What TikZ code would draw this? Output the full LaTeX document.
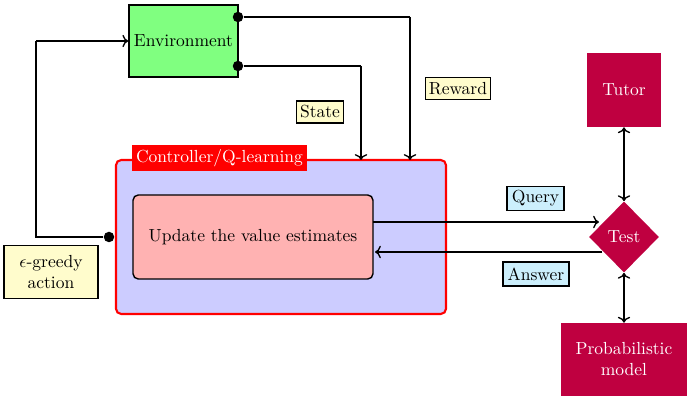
\documentclass[tikz,border=0pt]{standalone}
\usetikzlibrary{shapes.geometric,calc,arrows.meta}
\begin{document}
\begin{tikzpicture}[x=0.5714pt,y=-0.5714pt,
  conn/.style={thick,->},
  dconn/.style={thick,<->},
  lbl/.style={draw,thick,fill=yellow!20,inner sep=2pt,minimum height=12.4pt},
  qlbl/.style={draw,thick,fill=cyan!20,inner sep=2pt,minimum height=13.8pt},
  pbox/.style={fill=purple,text=white,inner sep=2pt,align=center},
  dot/.style={circle,fill=black,inner sep=0pt,minimum size=6pt}]
\useasboundingbox (0,0) rectangle (692,400);
% controller
\node[draw=red,very thick,fill=blue!20,rounded corners=3pt,minimum width=188.6pt,minimum height=88pt] (ctrl) at (281,237) {};
\node[fill=red,text=white,minimum width=100pt,minimum height=15.4pt,inner sep=1pt] (ctrllbl) at (219.5,158) {Controller/Q-learning};
\node[draw,thick,fill=red!30,rounded corners=3pt,minimum width=137.1pt,minimum height=48pt] (upd) at (253,237) {Update the value estimates};
% environment
\node[draw,thick,fill=green!50,minimum width=62.3pt,minimum height=41.1pt,inner sep=1pt] (env) at (183.5,41) {Environment};
\node[dot] (d1) at (238,17) {};
\node[dot] (d2) at (238,66) {};
\node[dot] (d3) at (109,237) {};
\coordinate (c1) at (410,17);
\coordinate (c2) at (361,66);
\coordinate (c3) at (36,237);
\coordinate (c4) at (36,41);
\coordinate (t1) at (410,160);
\coordinate (t2) at (361,160);
\draw[thick] (d1) -- (c1);
\draw[conn] (c1) -- (t1);
\draw[thick] (d2) -- (c2);
\draw[conn] (c2) -- (t2);
\draw[thick] (d3) -- (c3) -- (c4);
\draw[conn] (c4) -- (env.west);
% labels
\node[lbl] (state) at (320,112) {State};
\node[lbl] (reward) at (458,88.5) {Reward};
\node[lbl,minimum width=53.7pt,minimum height=30.5pt,align=center] (eps) at (51,272) {$\epsilon$-greedy\\action};
% right side
\node[pbox,diamond,aspect=1,minimum width=40pt,minimum height=40.6pt,inner sep=0pt] (test) at (624,237) {Test};
\node[pbox,minimum width=42.3pt,minimum height=42.3pt] (tutor) at (624,90) {Tutor};
\node[pbox,minimum width=72pt,minimum height=41.7pt] (prob) at (624,359.5) {Probabilistic\\model};
\draw[dconn] (tutor.south) -- (test.north);
\draw[dconn] (test.south) -- (prob.north);
\coordinate (qs) at (373,222);
\coordinate (qe) at (599,222);
\coordinate (as) at (602,252);
\coordinate (ae) at (375,252);
\draw[conn] (qs) -- (qe);
\draw[conn] (as) -- (ae);
\node[qlbl,minimum width=32.6pt] (query) at (535.5,198.5) {Query};
\node[qlbl,minimum width=37.7pt] (answer) at (536,274) {Answer};
\end{tikzpicture}
\end{document}
